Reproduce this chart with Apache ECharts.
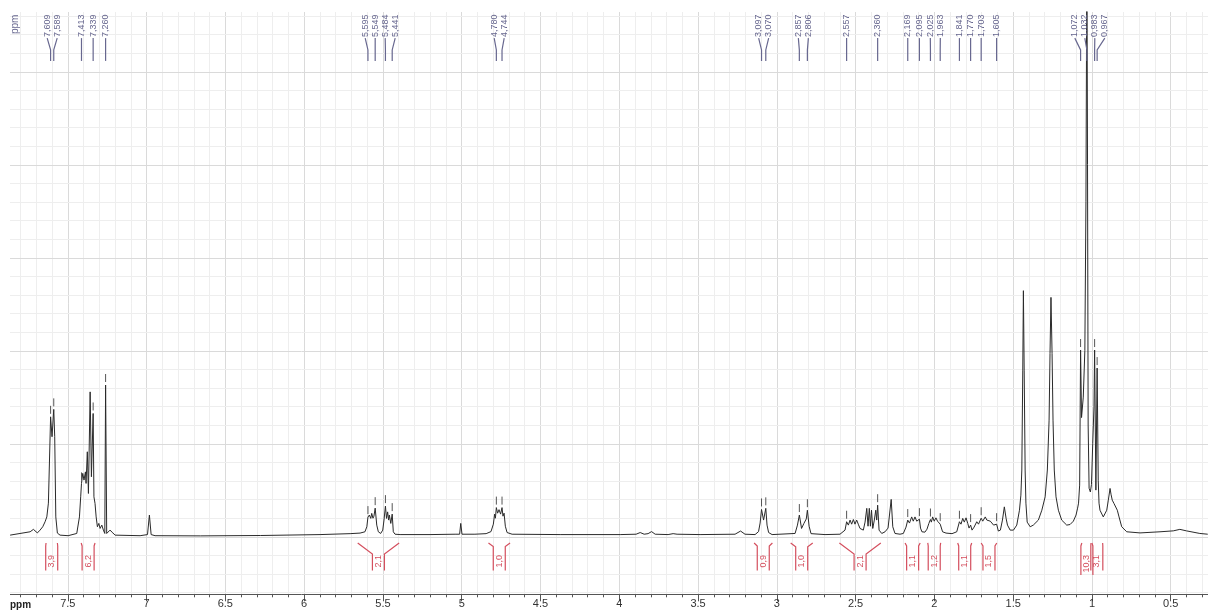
<!DOCTYPE html>
<html><head><meta charset="utf-8">
<script src="https://cdn.jsdelivr.net/npm/echarts@6/dist/echarts.min.js"></script>
<style>html,body{margin:0;padding:0;background:#fff}#c{width:1208px;height:611px}</style>
</head><body><div id="c"></div>
<script>
// ---- data: [ppm, intensity] ----
const spectrum = [
[7.866,0.08],[7.739,0.26],[7.718,0.39],[7.708,0.31],[7.693,0.20],[7.676,0.35],[7.659,0.53],[7.644,0.80],[7.633,1.06],[7.623,1.80],
[7.609,6.44],[7.600,5.37],[7.589,6.84],[7.583,5.37],[7.576,1.06],[7.566,0.19],[7.549,0.08],[7.498,0.05],
[7.443,0.17],[7.426,1.06],[7.418,2.14],[7.413,2.86],[7.405,3.40],[7.397,3.04],[7.388,3.48],[7.384,2.86],[7.376,4.56],[7.369,2.32],
[7.358,7.78],[7.350,3.22],[7.339,6.62],[7.334,2.14],[7.327,1.78],[7.320,1.06],[7.312,0.53],[7.303,0.71],[7.295,0.44],[7.284,0.62],
[7.274,0.35],[7.265,0.17],[7.260,8.15],[7.253,0.17],[7.232,0.35],[7.214,0.20],[7.200,0.08],[7.041,0.05],[6.994,0.11],[6.982,1.16],
[6.971,0.11],[6.946,0.05],[6.659,0.04],[6.278,0.06],[5.899,0.11],[5.708,0.16],
[5.645,0.19],[5.614,0.26],[5.602,0.53],[5.595,1.05],[5.586,1.16],[5.577,0.98],[5.571,1.25],[5.563,0.99],[5.557,1.10],[5.549,1.53],
[5.539,0.62],[5.529,0.26],[5.514,0.17],[5.501,0.35],[5.493,0.89],[5.484,1.64],[5.477,0.98],[5.470,1.33],[5.464,0.89],[5.459,1.16],
[5.450,0.71],[5.441,1.21],[5.434,0.26],[5.423,0.13],[5.391,0.11],[5.201,0.11],[5.042,0.13],[5.013,0.13],[5.006,0.71],[4.998,0.13],
[4.916,0.13],[4.845,0.16],[4.814,0.27],[4.799,0.67],[4.791,1.21],[4.786,0.99],[4.780,1.56],[4.772,1.26],[4.763,1.45],[4.753,1.21],
[4.744,1.56],[4.738,1.10],[4.731,1.26],[4.723,0.56],[4.712,0.22],[4.680,0.13],[4.375,0.11],[3.994,0.11],[3.893,0.13],[3.867,0.22],
[3.842,0.13],[3.817,0.16],[3.795,0.27],[3.772,0.13],[3.690,0.11],[3.658,0.16],[3.633,0.13],[3.487,0.11],[3.265,0.13],[3.230,0.30],
[3.202,0.13],[3.138,0.11],[3.116,0.27],[3.106,0.73],[3.097,1.46],[3.084,0.89],[3.070,1.52],[3.062,0.62],[3.052,0.22],[3.030,0.11],
[2.884,0.17],[2.869,0.62],[2.857,1.16],[2.843,0.44],[2.828,0.71],[2.813,0.95],[2.806,1.42],[2.795,0.56],[2.783,0.16],[2.694,0.11],
[2.599,0.13],[2.567,0.35],[2.557,0.80],[2.546,0.62],[2.535,0.89],[2.525,0.67],[2.514,0.92],[2.504,0.67],[2.493,0.89],[2.483,0.67],
[2.472,0.44],[2.461,0.54],[2.451,0.35],[2.440,0.78],[2.429,1.52],[2.421,0.56],[2.413,1.52],[2.406,0.56],[2.399,1.42],[2.391,0.44],
[2.381,0.89],[2.372,1.42],[2.366,0.89],[2.360,1.69],[2.351,0.35],[2.334,0.17],[2.313,0.26],[2.294,0.46],[2.274,2.00],[2.264,0.53],
[2.250,0.17],[2.218,0.13],[2.197,0.17],[2.180,0.51],[2.169,0.89],[2.158,0.73],[2.144,1.06],[2.134,0.83],[2.123,1.06],[2.112,0.83],
[2.104,0.78],[2.095,0.94],[2.088,0.46],[2.079,0.26],[2.060,0.24],[2.047,0.40],[2.035,0.71],[2.025,0.92],[2.019,0.78],[2.011,1.06],
[2.001,0.83],[1.990,1.01],[1.980,0.83],[1.974,0.89],[1.963,0.67],[1.948,0.26],[1.926,0.19],[1.888,0.16],[1.858,0.26],[1.841,0.80],
[1.831,0.67],[1.820,0.98],[1.810,0.78],[1.799,1.01],[1.788,0.71],[1.780,0.46],[1.770,0.62],[1.761,0.35],[1.748,0.51],[1.731,0.80],
[1.720,0.67],[1.703,0.99],[1.693,0.83],[1.677,1.06],[1.667,0.89],[1.656,0.98],[1.645,0.83],[1.634,0.89],[1.624,0.62],[1.605,0.67],
[1.594,0.30],[1.581,0.35],[1.568,0.89],[1.556,1.60],[1.545,0.99],[1.536,0.62],[1.519,0.35],[1.498,0.35],[1.477,0.62],[1.460,1.42],
[1.451,2.23],[1.445,3.58],[1.439,8.95],[1.435,13.22],[1.430,8.95],[1.424,3.58],[1.419,1.80],[1.411,0.78],[1.392,0.53],[1.372,0.62],
[1.340,0.89],[1.318,1.42],[1.297,2.14],[1.283,3.58],[1.272,6.26],[1.266,9.85],[1.260,12.86],[1.253,9.85],[1.247,6.26],[1.239,3.58],
[1.228,2.14],[1.213,1.42],[1.192,0.89],[1.160,0.62],[1.139,0.65],[1.118,0.83],[1.101,1.16],[1.091,1.53],[1.085,1.80],[1.078,2.77],
[1.072,10.03],[1.066,6.40],[1.055,7.50],[1.045,10.0],[1.038,18.0],[1.032,32.1],[1.028,20.0],[1.024,6.0],[1.018,2.60],[1.010,2.40],
[1.003,2.80],[0.995,5.00],[0.987,7.00],[0.983,10.03],[0.975,2.50],[0.967,9.06],[0.960,3.00],[0.955,1.80],[0.949,1.42],[0.928,1.06],
[0.906,1.42],[0.896,1.96],[0.885,2.59],[0.879,2.28],[0.871,1.96],[0.860,1.78],[0.850,1.80],[0.839,1.42],[0.828,1.06],[0.811,0.53],
[0.779,0.26],[0.695,0.20],[0.568,0.26],[0.484,0.31],[0.442,0.39],[0.400,0.31],[0.315,0.17],[0.265,0.13]
];
const peakLabels = [7.609,7.589,7.413,7.339,7.260,5.595,5.549,5.484,5.441,4.780,4.744,3.097,3.070,2.857,2.806,2.557,2.360,
  2.169,2.095,2.025,1.963,1.841,1.770,1.703,1.605,1.072,1.032,0.983,0.967];
const integralStart = [7.638,7.415,5.660,4.830,3.144,2.912,2.603,2.186,2.042,1.852,1.703,1.064,1.006];
const integralEnd   = [7.566,7.327,5.397,4.693,3.028,2.772,2.340,2.090,1.960,1.763,1.604,1.000,0.932];
const integralValues = [3.9,6.2,2.1,1.0,0.9,1.0,2.1,1.1,1.2,1.1,1.5,10.3,3.1];

// ---- styling ----
const SLATE = '#67678f';
const RED = '#d44f5e';
const FONT = '"Liberation Sans", Arial, sans-serif';
const gridRows = [];
for (let v = -3; v <= 28; v++) gridRows.push(v);

const fmt = (v, d) => v.toFixed(d).replace('.', ',');

function peakTop(p) {
  let m = 0;
  spectrum.forEach(s => { if (Math.abs(s[0] - p) < 0.005 && s[1] > m) m = s[1]; });
  return m;
}

function renderRows(params, api) {
  const cs = params.coordSys;
  const v = api.value(1);
  const y = Math.round(api.coord([0, v])[1]) + 0.5;
  return { type: 'line', shape: { x1: cs.x, y1: y, x2: cs.x + cs.width, y2: y },
    style: { stroke: v % 5 === 0 ? '#dadada' : '#eeeeee', lineWidth: 1 } };
}

function renderPeakLabels(params, api) {
  const cs = params.coordSys;
  const items = peakLabels.map(p => ({ p, x: api.coord([p, 0])[0] }));
  const gap = 10;
  let groups = items.map(it => ({ members: [it], center: it.x }));
  let changed = true;
  while (changed) {
    changed = false;
    for (let i = 0; i < groups.length - 1; i++) {
      const a = groups[i], b = groups[i + 1];
      const aR = a.center + (a.members.length - 1) * gap / 2;
      const bL = b.center - (b.members.length - 1) * gap / 2;
      if (bL - aR < gap) {
        const members = a.members.concat(b.members);
        const center = members.reduce((s, m) => s + m.x, 0) / members.length;
        groups.splice(i, 2, { members, center });
        changed = true; break;
      }
    }
  }
  const yText = api.coord([0, 26.85])[1];
  const yBend = api.coord([0, 26.16])[1];
  const yEnd = api.coord([0, 25.57])[1];
  const children = [];
  groups.forEach(g => {
    const n = g.members.length;
    g.members.forEach((m, k) => {
      const lx = g.center + (k - (n - 1) / 2) * gap;
      children.push({ type: 'polyline', shape: { points: [[lx, yText + 1], [m.x, yBend], [m.x, yEnd]] },
        style: { stroke: SLATE, lineWidth: 1.2, fill: null } });
      children.push({ type: 'text', x: lx, y: yText, rotation: Math.PI / 2,
        style: { text: fmt(m.p, 3), fill: SLATE, font: '9px ' + FONT, align: 'left', verticalAlign: 'middle' } });
      const top = api.coord([m.p, peakTop(m.p)])[1];
      if (top - 11 > cs.y + 60) {
        children.push({ type: 'line', shape: { x1: m.x, y1: top - 3, x2: m.x, y2: top - 11 },
          style: { stroke: '#555', lineWidth: 1 } });
      }
    });
  });
  return { type: 'group', children };
}

function renderIntegral(params, api) {
  const i = params.dataIndex;
  const x1 = api.coord([integralStart[i], 0])[0];
  const x2 = api.coord([integralEnd[i], 0])[0];
  const cx = (x1 + x2) / 2;
  const hw = 6;
  const yTop = api.coord([0, -0.34])[1];
  const yText = api.coord([0, -0.99])[1];
  const label = fmt(integralValues[i], 1);
  const tw = label.length * 4.5;
  const yBot = yText + tw + 2;
  const bendL = yTop + Math.min(12, Math.max(3, Math.abs(cx - hw - x1) * 0.75));
  const bendR = yTop + Math.min(12, Math.max(3, Math.abs(x2 - (cx + hw)) * 0.75));
  return { type: 'group', children: [
    { type: 'polyline', shape: { points: [[x1, yTop], [cx - hw, bendL], [cx - hw, yBot]] }, style: { stroke: RED, lineWidth: 1.2, fill: null } },
    { type: 'polyline', shape: { points: [[x2, yTop], [cx + hw, bendR], [cx + hw, yBot]] }, style: { stroke: RED, lineWidth: 1.2, fill: null } },
    { type: 'text', x: cx, y: yText, rotation: Math.PI / 2,
      style: { text: label, fill: RED, font: '9px ' + FONT, align: 'right', verticalAlign: 'middle' } }
  ] };
}

const chart = echarts.init(document.getElementById('c'), null, { renderer: 'canvas' });
chart.setOption({
  animation: false,
  backgroundColor: '#ffffff',
  grid: { left: -11, right: -41.5, top: 12, bottom: 16.7, outerBoundsMode: 'none', containLabel: false },
  xAxis: {
    type: 'value', inverse: true, min: 0, max: 8, interval: 0.5,
    axisLine: { onZero: false, lineStyle: { color: '#555', width: 1 } },
    axisTick: { length: 7, lineStyle: { color: '#555' } },
    minorTick: { show: true, splitNumber: 5, length: 3, lineStyle: { color: '#555' } },
    axisLabel: { color: '#333', fontSize: 11, margin: 4, fontFamily: FONT },
    splitLine: { show: true, lineStyle: { color: '#dadada' } },
    minorSplitLine: { show: true, lineStyle: { color: '#eeeeee' } }
  },
  yAxis: { type: 'value', min: -3.1, max: 28.2, show: false },
  series: [
    { type: 'custom', z: 1, silent: true, data: gridRows.map(v => [0, v]), renderItem: renderRows },
    { type: 'line', z: 3, data: spectrum, showSymbol: false, symbol: 'none', silent: true,
      lineStyle: { color: '#2a2a2a', width: 1 }, clip: true },
    { type: 'custom', z: 4, silent: true, clip: false, data: [[0, 0]], renderItem: renderPeakLabels },
    { type: 'custom', z: 4, silent: true, clip: false, data: integralValues.map((v, i) => [i, 0]), renderItem: renderIntegral }
  ],
  graphic: [
    { type: 'rect', z: 100, shape: { x: 0, y: 0, width: 10, height: 611 }, style: { fill: '#ffffff' } },
    { type: 'text', z: 101, x: 15, y: 34, rotation: Math.PI / 2,
      style: { text: 'ppm', fill: SLATE, font: '10px ' + FONT, align: 'left', verticalAlign: 'middle' } },
    { type: 'text', z: 101, x: 10, y: 605,
      style: { text: 'ppm', fill: '#222', font: 'bold 10px ' + FONT, align: 'left', verticalAlign: 'middle' } }
  ]
});
</script>
</body></html>
